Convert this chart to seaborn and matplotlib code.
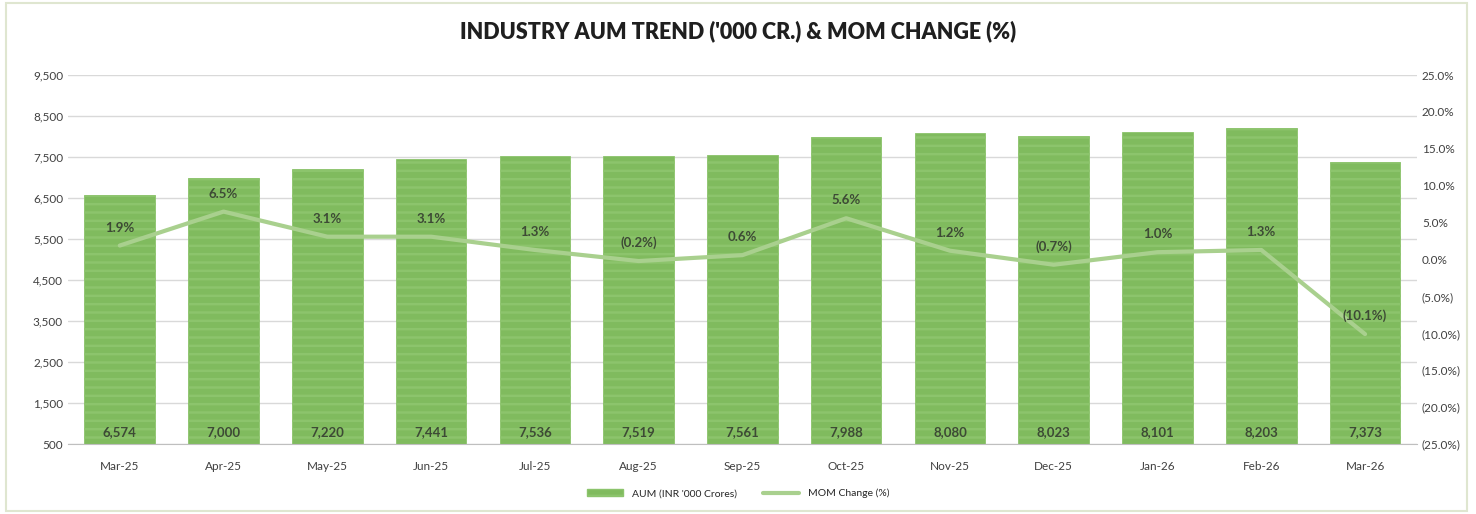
import numpy as np
import pandas as pd
import seaborn as sns
import matplotlib.pyplot as plt
from matplotlib.patches import Patch, Rectangle
from matplotlib.lines import Line2D
from matplotlib.ticker import FuncFormatter

# data
months = ['Mar-25', 'Apr-25', 'May-25', 'Jun-25', 'Jul-25', 'Aug-25', 'Sep-25',
          'Oct-25', 'Nov-25', 'Dec-25', 'Jan-26', 'Feb-26', 'Mar-26']
aum = [6574, 7000, 7220, 7441, 7536, 7519, 7561, 7988, 8080, 8023, 8101, 8203, 7373]
mom = [1.9, 6.5, 3.1, 3.1, 1.3, -0.2, 0.6, 5.6, 1.2, -0.7, 1.0, 1.3, -10.1]

df = pd.DataFrame({'month': months, 'aum': aum, 'mom': mom})
df['pos'] = np.arange(len(df))

sns.set_style('white')
plt.rcParams['font.family'] = ['Lato', 'DejaVu Sans']
plt.rcParams['hatch.color'] = '#d2e9c4'
plt.rcParams['hatch.linewidth'] = 1.8

bar_green = '#80bb5e'
line_green = '#a9d08e'
txt = '#404040'

fig = plt.figure(figsize=(14.76, 5.14), dpi=100)
ax = fig.add_axes([0.046, 0.136, 0.914, 0.718])

sns.barplot(data=df, x='month', y='aum', color=bar_green, width=0.68,
            saturation=1, ax=ax, zorder=2)
for p in ax.patches:
    p.set_hatch('--')
    p.set_edgecolor('#8cc46c')
    p.set_linewidth(0.6)

ax.set_ylim(500, 9500)
ax.set_yticks(np.arange(500, 9501, 1000))
ax.yaxis.set_major_formatter(FuncFormatter(lambda v, _: f'{v:,.0f}'))
ax.grid(axis='y', color='#d9d9d9', linewidth=1, zorder=0)
ax.set_axisbelow(True)
ax.set_xlabel('')
ax.set_ylabel('')
ax.set_xlim(-0.5, len(months) - 0.5)
for s in ['top', 'right', 'left']:
    ax.spines[s].set_visible(False)
ax.spines['bottom'].set_color('#bfbfbf')
ax.tick_params(axis='both', length=0, labelsize=8.5, colors=txt)
ax.tick_params(axis='x', pad=12)

for i, v in enumerate(aum):
    ax.text(i, 640, f'{v:,}', ha='center', va='bottom', fontsize=9.5,
            fontweight='bold', color='#3d4a35', zorder=5)

ax2 = ax.twinx()
sns.lineplot(data=df, x='pos', y='mom', color=line_green, linewidth=3,
             ax=ax2, zorder=3)
ax2.set_ylim(-25, 25)
ax2.set_yticks(np.arange(-25, 26, 5))
ax2.yaxis.set_major_formatter(
    FuncFormatter(lambda v, _: f'{v:.1f}%' if v >= 0 else f'({abs(v):.1f}%)'))
ax2.set_ylabel('')
ax2.set_xlabel('')
for s in ['top', 'right', 'left', 'bottom']:
    ax2.spines[s].set_visible(False)
ax2.tick_params(axis='y', length=0, labelsize=8.5, colors=txt)
ax2.set_xlim(-0.5, len(months) - 0.5)

for i, v in enumerate(mom):
    lab = f'{v:.1f}%' if v >= 0 else f'({abs(v):.1f}%)'
    ax2.text(i, v + 1.6, lab, ha='center', va='bottom', fontsize=9.5,
             fontweight='bold', color='#3d4a35', zorder=6)

fig.text(0.5, 0.94, "INDUSTRY AUM TREND ('000 CR.) & MOM CHANGE (%)",
         ha='center', va='center', fontsize=15.5, fontweight='heavy', color='#1f1f1f')

handles = [Patch(facecolor=bar_green, hatch='--', edgecolor='#8cc46c', label="AUM (INR '000 Crores)"),
           Line2D([0], [0], color=line_green, linewidth=3, label='MOM Change (%)')]
fig.legend(handles=handles, loc='center', bbox_to_anchor=(0.5, 0.04), ncol=2,
           frameon=False, fontsize=7.5, handlelength=3.5, columnspacing=2.5)

fig.patches.append(Rectangle((0.004, 0.006), 0.99, 0.988, transform=fig.transFigure,
                             fill=False, edgecolor='#dfe6d0', linewidth=1.5))

fig.savefig('out.png', dpi=100)
